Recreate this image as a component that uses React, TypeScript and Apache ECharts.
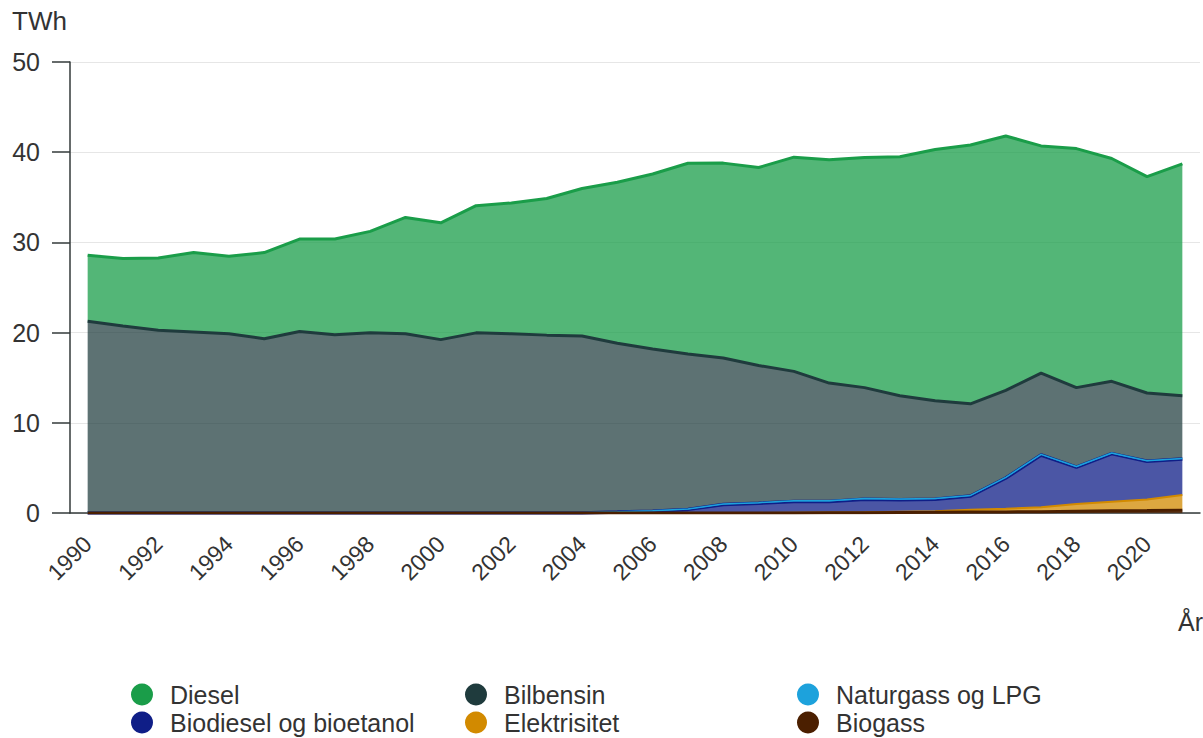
import React, { useEffect, useRef } from "react";
import * as echarts from "echarts";

const years = [
  "1990","1991","1992","1993","1994","1995","1996","1997","1998","1999",
  "2000","2001","2002","2003","2004","2005","2006","2007","2008","2009",
  "2010","2011","2012","2013","2014","2015","2016","2017","2018","2019",
  "2020","2021",
];

const diesel = [
  7.3, 7.5, 8.0, 8.8, 8.6, 9.55, 10.25, 10.6, 11.25, 12.9,
  12.95, 14.1, 14.5, 15.15, 16.35, 17.85, 19.4, 21.15, 21.6, 21.95,
  23.75, 24.75, 25.5, 26.5, 27.85, 28.7, 28.2, 25.2, 26.5, 24.7,
  24.0, 25.7,
];
const bilbensin = [
  21.22, 20.67, 20.22, 20.02, 19.82, 19.27, 20.07, 19.72, 19.92, 19.82,
  19.17, 19.92, 19.82, 19.67, 19.57, 18.68, 17.93, 17.18, 16.18, 15.2,
  14.35, 13.05, 12.3, 11.45, 10.85, 10.15, 9.65, 9.0, 8.75, 7.95,
  7.5, 6.95,
];
const naturgass = [
  0.04, 0.04, 0.04, 0.04, 0.04, 0.04, 0.04, 0.04, 0.04, 0.04,
  0.04, 0.04, 0.04, 0.04, 0.04, 0.04, 0.05, 0.05, 0.06, 0.07,
  0.07, 0.07, 0.07, 0.07, 0.07, 0.07, 0.07, 0.07, 0.07, 0.07,
  0.07, 0.07,
];
const biodiesel = [
  0, 0, 0, 0, 0, 0, 0, 0, 0, 0,
  0, 0, 0, 0, 0, 0.09, 0.19, 0.39, 0.94, 1.07,
  1.24, 1.22, 1.44, 1.34, 1.33, 1.53, 3.41, 5.78, 4.08, 5.33,
  4.23, 3.98,
];
const elektrisitet = [
  0.01, 0.01, 0.01, 0.01, 0.01, 0.01, 0.01, 0.01, 0.01, 0.01,
  0.01, 0.01, 0.01, 0.01, 0.01, 0.01, 0.01, 0.01, 0.01, 0.01,
  0.03, 0.04, 0.06, 0.09, 0.13, 0.25, 0.35, 0.5, 0.8, 1.0,
  1.23, 1.7,
];
const biogass = [
  0, 0, 0, 0, 0, 0, 0, 0, 0, 0,
  0, 0, 0, 0, 0, 0, 0, 0, 0, 0,
  0.01, 0.02, 0.03, 0.05, 0.07, 0.1, 0.12, 0.15, 0.2, 0.25,
  0.27, 0.3,
];

const yTicks = { min: 0, max: 50, interval: 10 };

const FONT = "'Liberation Sans', Arial, sans-serif";
const TEXT = "#333333";
const AXIS = "#333a3a";

export default function App() {
  const ref = useRef<HTMLDivElement>(null);

  useEffect(() => {
    if (!ref.current) return;
    const chart = echarts.init(ref.current, null, { renderer: "svg" });

    const mk = (name: string, data: number[], line: string, width: number, fillOpacity: number, z = 2) => ({
      name,
      type: "line",
      stack: "total",
      data,
      z,
      showSymbol: false,
      symbol: "none",
      lineStyle: { color: line, width },
      itemStyle: { color: line },
      areaStyle: { color: line, opacity: fillOpacity },
      emphasis: { disabled: true },
    });

    const leg = (name: string, left: number, top: number) => ({
      left,
      top,
      data: [name],
      icon: "circle",
      itemWidth: 22,
      itemHeight: 22,
      textStyle: { fontSize: 25, color: TEXT, fontFamily: FONT, padding: [0, 0, 0, 12] },
      selectedMode: false,
      padding: 0,
    });

    chart.setOption({
      animation: false,
      textStyle: { fontFamily: FONT },
      grid: { left: 70, right: 3, top: 62, bottom: 225, containLabel: false, outerBoundsMode: "none" },
      legend: [
        leg("Diesel", 131, 682),
        leg("Biodiesel og bioetanol", 131, 710),
        leg("Bilbensin", 465, 682),
        leg("Elektrisitet", 465, 710),
        leg("Naturgass og LPG", 797, 682),
        leg("Biogass", 797, 710),
      ],
      xAxis: {
        type: "category",
        data: years,
        boundaryGap: true,
        axisLine: { lineStyle: { color: AXIS, width: 1.5 } },
        axisTick: { alignWithLabel: true, interval: 1, length: 19, lineStyle: { color: AXIS, width: 1.5 } },
        axisLabel: { interval: 1, rotate: 45, fontSize: 23, color: TEXT, margin: 27, fontFamily: FONT },
        splitLine: { show: false },
      },
      yAxis: {
        type: "value",
        min: yTicks.min,
        max: yTicks.max,
        interval: yTicks.interval,
        axisLine: { show: true, lineStyle: { color: AXIS, width: 1.5 } },
        axisTick: { show: true, length: 18, lineStyle: { color: AXIS, width: 1.5 } },
        axisLabel: { fontSize: 25, color: TEXT, margin: 30, fontFamily: FONT },
        splitLine: { lineStyle: { color: "#e6e6e6", width: 1 } },
      },
      graphic: [
        { type: "text", left: 12, top: 8, style: { text: "TWh", fontSize: 26, fill: TEXT, fontFamily: FONT } },
        { type: "text", right: 0, top: 609, style: { text: "År", fontSize: 25, fill: TEXT, fontFamily: FONT } },
      ],
      series: [
        mk("Biogass", biogass, "#4b1f00", 3, 0.75, 4),
        mk("Elektrisitet", elektrisitet, "#d28a00", 2, 0.75),
        mk("Biodiesel og bioetanol", biodiesel, "#0f1e87", 3.5, 0.75),
        mk("Naturgass og LPG", naturgass, "#1da2dc", 1.5, 0.75, 3),
        mk("Bilbensin", bilbensin, "#1f3b3d", 3, 0.72),
        mk("Diesel", diesel, "#1a9d49", 3, 0.75),
      ],
    });

    return () => chart.dispose();
  }, []);

  return (
    <div
      ref={ref}
      style={{ position: "fixed", left: 0, top: 0, width: 1203, height: 738, background: "#ffffff" }}
    />
  );
}
